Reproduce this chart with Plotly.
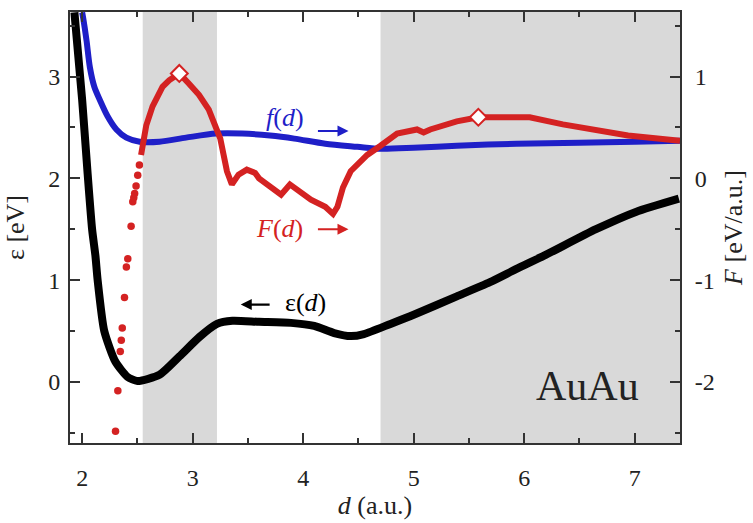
import plotly.graph_objects as go

# ---- data -------------------------------------------------------------
# binding energy curve eps(d) [eV]
eps_d = [1.93, 2.00, 2.05, 2.09, 2.12, 2.14, 2.20, 2.30, 2.41, 2.50, 2.70,
         2.88, 3.06, 3.22, 3.36, 3.60, 3.89, 4.10, 4.28, 4.43, 4.55, 4.79, 5.00,
         5.39, 5.69, 5.93, 6.18, 6.65, 7.01, 7.40]
eps_val = [3.63, 2.77, 2.04, 1.50, 1.24, 1.00, 0.50, 0.20, 0.05, 0.01, 0.07,
           0.25, 0.44, 0.57, 0.60, 0.59, 0.58, 0.55, 0.48, 0.45, 0.47, 0.57, 0.66,
           0.84, 0.98, 1.11, 1.24, 1.50, 1.67, 1.80]

# f(d) [eV/a.u.]
f_d = [2.00, 2.01, 2.04, 2.07, 2.11, 2.16, 2.23, 2.31, 2.40, 2.52, 2.70, 2.94,
       3.21, 3.45, 3.70, 3.92, 4.20, 4.49, 4.70, 5.00, 5.39, 5.93, 6.50, 7.00, 7.41]
f_val = [1.63, 1.57, 1.35, 1.09, 0.90, 0.77, 0.61, 0.48, 0.40, 0.36, 0.36, 0.40,
         0.44, 0.44, 0.42, 0.39, 0.34, 0.31, 0.29, 0.30, 0.32, 0.34, 0.35, 0.36, 0.37]

# F(d) [eV/a.u.], sparse steep branch (dots)
F_sparse_d = [2.302, 2.323, 2.345, 2.354, 2.363, 2.383, 2.400, 2.413, 2.443,
              2.458, 2.467, 2.475, 2.488, 2.503, 2.518]
F_sparse_val = [-2.485, -2.086, -1.70, -1.59, -1.47, -1.17, -0.87, -0.79, -0.47,
                -0.23, -0.19, -0.15, -0.075, 0.03, 0.13]

# F(d) [eV/a.u.], dense branch
F_d = [2.533, 2.548, 2.58, 2.637, 2.727, 2.787, 2.879, 2.967, 3.057, 3.146, 3.206,
       3.25, 3.28, 3.31, 3.355, 3.415, 3.49, 3.565, 3.60, 3.68, 3.80, 3.88, 3.95,
       4.07, 4.20, 4.27, 4.31, 4.36, 4.43, 4.58, 4.70, 4.85, 5.03, 5.09, 5.15,
       5.39, 5.585, 5.75, 6.05, 6.35, 6.65, 6.94, 7.41]
F_val = [0.23, 0.32, 0.52, 0.707, 0.899, 0.963, 1.03, 0.93, 0.82, 0.675, 0.515,
         0.39, 0.23, 0.07, -0.06, 0.036, 0.085, 0.053, 0.00, -0.06, -0.16, -0.06, -0.12,
         -0.21, -0.28, -0.35, -0.28, -0.09, 0.07, 0.23, 0.32, 0.44, 0.48, 0.45, 0.48,
         0.56, 0.60, 0.60, 0.60, 0.53, 0.47, 0.42, 0.37]

# local maxima of F marked with open diamonds (indices into F_d)
F_max_idx = [6, 36]

# shaded distance intervals
shade_bands = [(2.548, 3.22), (4.70, 7.41)]

# axis ticks
d_ticks = [2, 3, 4, 5, 6, 7]
eps_ticks = [0, 1, 2, 3]
F_ticks = [-2, -1, 0, 1]
F_ticklabels = ["-2", "-1", "0", "1"]

# ---- styling ----------------------------------------------------------
SERIF = "Liberation Serif"
AXC = "#333333"
RED = "#d42222"
BLUE = "#1f1fc8"

fig = go.Figure()

for x0, x1 in shade_bands:
    fig.add_shape(type="rect", xref="x", yref="paper", x0=x0, x1=x1, y0=0, y1=1,
                  fillcolor="#d9d9d9", line_width=0, layer="below")

fig.add_trace(go.Scatter(x=eps_d, y=eps_val, mode="lines", yaxis="y",
                         line=dict(color="black", width=8, shape="spline", smoothing=0.6),
                         showlegend=False))
fig.add_trace(go.Scatter(x=f_d, y=f_val, mode="lines", yaxis="y2",
                         line=dict(color=BLUE, width=6, shape="spline", smoothing=0.8),
                         showlegend=False))
fig.add_trace(go.Scatter(x=F_sparse_d, y=F_sparse_val, mode="markers", yaxis="y2",
                         marker=dict(color=RED, size=7.5, line_width=0),
                         cliponaxis=True, showlegend=False))
fig.add_trace(go.Scatter(x=F_d, y=F_val, mode="lines", yaxis="y2",
                         line=dict(color=RED, width=6),
                         showlegend=False))
fig.add_trace(go.Scatter(x=[F_d[i] for i in F_max_idx], y=[F_val[i] for i in F_max_idx],
                         mode="markers", yaxis="y2",
                         marker=dict(symbol="diamond", size=13, color="white",
                                     line=dict(color=RED, width=2)),
                         showlegend=False))

lab_font = dict(family=SERIF, size=26)
fig.add_annotation(x=3.84, y=0.60, xref="x", yref="y2", showarrow=False,
                   text="<i>f</i>(<i>d</i>)", font=dict(lab_font, color=BLUE))
fig.add_annotation(x=4.41, y=0.465, ax=4.12, ay=0.465, xref="x", yref="y2",
                   axref="x", ayref="y2", text="", showarrow=True,
                   arrowhead=2, arrowsize=1, arrowwidth=2.2, arrowcolor=BLUE)
fig.add_annotation(x=3.79, y=-0.49, xref="x", yref="y2", showarrow=False,
                   text="<i>F</i>(<i>d</i>)", font=dict(lab_font, color=RED))
fig.add_annotation(x=4.41, y=-0.50, ax=4.12, ay=-0.50, xref="x", yref="y2",
                   axref="x", ayref="y2", text="", showarrow=True,
                   arrowhead=2, arrowsize=1, arrowwidth=2.2, arrowcolor=RED)
fig.add_annotation(x=4.02, y=0.78, xref="x", yref="y", showarrow=False,
                   text="ε(<i>d</i>)", font=dict(lab_font, color="black"))
fig.add_annotation(x=3.435, y=0.76, ax=3.71, ay=0.76, xref="x", yref="y",
                   axref="x", ayref="y", text="", showarrow=True,
                   arrowhead=2, arrowsize=1, arrowwidth=2.2, arrowcolor="black")
fig.add_annotation(x=6.57, y=-0.04, xref="x", yref="y", showarrow=False,
                   text="AuAu", font=dict(family=SERIF, size=42, color="#222222"))

tick_font = dict(family=SERIF, size=24, color="#222222")
title_font = dict(family=SERIF, size=26, color="#222222")

fig.update_layout(
    width=753, height=523,
    margin=dict(l=70, r=68, t=10, b=71),
    paper_bgcolor="white", plot_bgcolor="white",
    xaxis=dict(range=[1.89, 7.41], tickvals=d_ticks, ticks="inside", ticklen=10,
               tickwidth=2, tickcolor=AXC, showline=True, linecolor=AXC, linewidth=2,
               mirror="ticks", showgrid=False, zeroline=False, tickfont=tick_font,
               ticklabelstandoff=12,
               minor=dict(dtick=0.5, ticks="inside", ticklen=5, tickwidth=2,
                          tickcolor=AXC, showgrid=False),
               title=dict(text="<i>d</i> (a.u.)", font=title_font, standoff=4)),
    yaxis=dict(range=[-0.60, 3.634], tickvals=eps_ticks, ticks="inside", ticklen=10,
               tickwidth=2, tickcolor=AXC, showline=True, linecolor=AXC, linewidth=2,
               showgrid=False, zeroline=False, tickfont=tick_font,
               ticklabelstandoff=3,
               minor=dict(dtick=0.5, ticks="inside", ticklen=5, tickwidth=2,
                          tickcolor=AXC, showgrid=False),
               title=dict(text="ε [eV]", font=title_font, standoff=16)),
    yaxis2=dict(range=[-2.60, 1.634], overlaying="y", side="right",
                tickvals=F_ticks, ticktext=F_ticklabels, ticks="inside", ticklen=10,
                tickwidth=2, tickcolor=AXC, showline=True, linecolor=AXC, linewidth=2,
                showgrid=False, zeroline=False, tickfont=tick_font,
                ticklabelstandoff=8,
                minor=dict(dtick=0.5, ticks="inside", ticklen=5, tickwidth=2,
                           tickcolor=AXC, showgrid=False),
                title=dict(text="<i>F</i> [eV/a.u.]", font=title_font, standoff=10)),
)

fig.write_html("out.html")
